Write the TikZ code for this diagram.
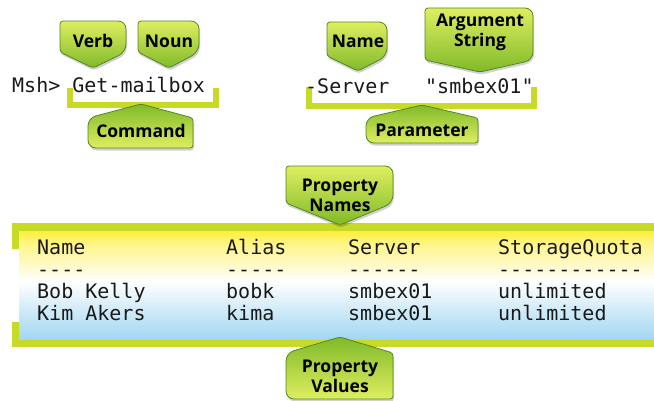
\documentclass[tikz,border=0pt]{standalone}
\usepackage{fontspec}
\usetikzlibrary{shadows}
\setmonofont{DejaVu Sans Mono}
\newfontfamily\labfont{Open Sans}
\definecolor{brk}{RGB}{200,218,40}
\definecolor{callL}{RGB}{222,238,96}
\definecolor{callD}{RGB}{128,186,42}
\definecolor{callE}{RGB}{84,134,30}
\definecolor{tabY}{RGB}{255,238,60}
\definecolor{tabB}{RGB}{160,214,242}
\pgfdeclareverticalshading{tabshade}{100bp}{color(0bp)=(tabB); color(25bp)=(tabB); color(40bp)=(tabB!45!white); color(52bp)=(white); color(60bp)=(tabY!30!white); color(69bp)=(tabY!60!white); color(75bp)=(tabY); color(100bp)=(tabY)}
\newcommand\calldn[6]{\path[calldown] (#5,#6) [rounded corners=3pt] -- (#1,#4) -- (#1,#3) [rounded corners=8pt] -- (#2,#3) -- (#2,#4) [rounded corners=3pt] -- cycle;}
\newcommand\callupp[6]{\path[callup] (#5,#6) [rounded corners=3pt] -- (#2,#4) -- (#2,#3) [rounded corners=8pt] -- (#1,#3) -- (#1,#4) [rounded corners=3pt] -- cycle;}
\begin{document}
\begin{tikzpicture}[x=1pt,y=-1pt,
  softshadow/.style={drop shadow={opacity=0.18, shadow xshift=1pt, shadow yshift=-2.5pt, fill=black}},
  bracket/.style={draw=brk, line width=6pt, line join=miter},
  frame/.style={draw=brk, line width=7.5pt, line join=miter},
  calldown/.style={draw=callE, line width=0.8pt, top color=callL, bottom color=callD, softshadow},
  callup/.style={draw=callE, line width=0.8pt, top color=callD, bottom color=callL, softshadow},
  lab/.style={font=\labfont\bfseries\fontsize{17.5}{20}\selectfont, align=center, text=black, inner sep=0pt},
  mono/.style={font=\ttfamily\fontsize{20}{22}\selectfont, anchor=base west, inner sep=0pt, text=black!90}]
\useasboundingbox (0,0) rectangle (654,400);

% table background and frame
\shade[shading=tabshade] (19,231) rectangle (660,340);
\draw[frame] (15.5,249) -- (15.5,227) -- (660,227);
\draw[frame] (15.5,322) -- (15.5,343.5) -- (660,343.5);

% brackets
\draw[bracket] (70,88) -- (70,105) -- (216,105) -- (216,88);
\draw[bracket] (309,87) -- (309,106) -- (534,106) -- (534,87);

% callouts
\calldn{60}{126}{21}{52}{93}{68}
\calldn{138}{199}{21}{52}{169}{68}
\calldn{327}{387}{22}{56}{358}{71}
\calldn{425}{533}{8}{60}{480}{72}
\calldn{286}{393}{166}{203}{340}{225}
\callupp{88}{193}{148}{118}{141}{104}
\callupp{366}{478}{143}{118}{422}{105}
\callupp{286}{393}{399}{353}{340}{337}

\node[lab] (verb) at (93,41) {Verb};
\node[lab] (noun) at (169,41) {Noun};
\node[lab] (name) at (358,41) {Name};
\node[lab] (argstr) at (480,32) {Argument\\String};
\node[lab] (propnames) at (340,195) {Property\\Names};
\node[lab] (command) at (141,131) {Command};
\node[lab] (parameter) at (422,130) {Parameter};
\node[lab] (propvalues) at (340,376) {Property\\Values};

% command text
\node[mono] (cmd) at (12,92) {Msh> Get-mailbox};
\node[mono] (pname) at (305,93) {-Server};
\node[mono] (parg) at (425,93) {"smbex01"};

% table text
\node[mono] (h1) at (37,254) {Name};
\node[mono] (h2) at (226,254) {Alias};
\node[mono] (h3) at (348,254) {Server};
\node[mono] (h4) at (498,254) {StorageQuota};
\node[mono] (d1) at (37,276) {----};
\node[mono] (d2) at (226,276) {-----};
\node[mono] (d3) at (348,276) {------};
\node[mono] (d4) at (498,276) {------------};
\node[mono] (r11) at (37,298) {Bob Kelly};
\node[mono] (r12) at (226,298) {bobk};
\node[mono] (r13) at (348,298) {smbex01};
\node[mono] (r14) at (498,298) {unlimited};
\node[mono] (r21) at (37,320) {Kim Akers};
\node[mono] (r22) at (226,320) {kima};
\node[mono] (r23) at (348,320) {smbex01};
\node[mono] (r24) at (498,320) {unlimited};
\end{tikzpicture}
\end{document}
